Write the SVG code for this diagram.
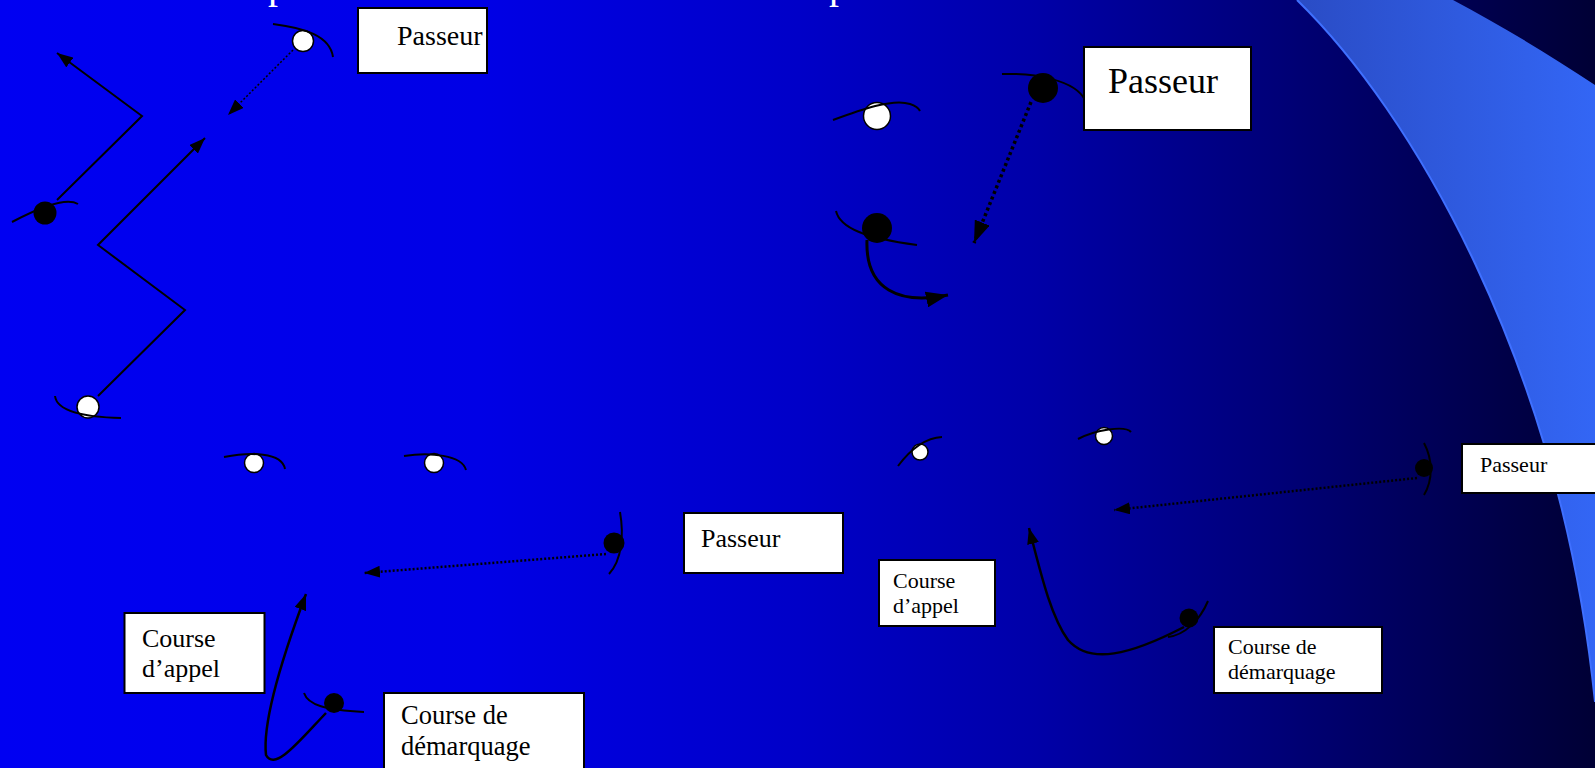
<svg xmlns="http://www.w3.org/2000/svg" width="1595" height="768" viewBox="0 0 1595 768">
<defs>
<linearGradient id="bg" x1="0" y1="0" x2="1595" y2="0" gradientUnits="userSpaceOnUse">
<stop offset="0" stop-color="#0000F2"/>
<stop offset="0.3" stop-color="#0000E6"/>
<stop offset="0.5" stop-color="#0000C8"/>
<stop offset="0.65" stop-color="#0000A8"/>
<stop offset="0.8" stop-color="#000078"/>
<stop offset="1" stop-color="#000035"/>
</linearGradient>
<linearGradient id="sw" x1="1297" y1="0" x2="1595" y2="0" gradientUnits="userSpaceOnUse">
<stop offset="0" stop-color="#2A4CC5"/>
<stop offset="1" stop-color="#3366F5"/>
</linearGradient>
<marker id="arr" viewBox="0 0 16 12" refX="16" refY="6" markerWidth="16" markerHeight="12" markerUnits="userSpaceOnUse" orient="auto">
<path d="M0,0 L16,6 L0,12 z" fill="#000"/>
</marker>
<marker id="arrBig" viewBox="0 0 22 16" refX="22" refY="8" markerWidth="22" markerHeight="16" markerUnits="userSpaceOnUse" orient="auto">
<path d="M0,0 L22,8 L0,16 z" fill="#000"/>
</marker>
</defs>
<style>
.box{fill:#fff;stroke:#000;stroke-width:2}
.lbl{font-family:"Liberation Serif","Times New Roman",serif;fill:#000}
.wp{fill:#fff;stroke:#000;stroke-width:1.5}
.bp{fill:#000}
.arc{fill:none;stroke:#000;stroke-width:2}
.ln{fill:none;stroke:#000;stroke-width:2;marker-end:url(#arr)}
.dot{fill:none;stroke:#000;stroke-width:2;stroke-dasharray:2 2;marker-end:url(#arr)}
.title{font-family:"Liberation Serif","Times New Roman",serif;fill:#fff;font-size:40px}
</style>
<rect x="0" y="0" width="1595" height="768" fill="url(#bg)"/>
<path d="M1297,0 C1410,110 1560,360 1595,702 L1595,85 C1550,55 1500,25 1453,0 Z" fill="url(#sw)"/>
<path d="M1297,0 C1410,110 1560,360 1595,702" fill="none" stroke="#3F70FF" stroke-width="2"/>
<text class="title" x="268" y="-2.5">p</text>
<text class="title" x="829" y="-2.5">p</text>

<g id="connectors">
<path class="dot" d="M293,50 L228,115" style="stroke-width:1.5"/>
<path class="ln" d="M57,200 L142,116 L57,53"/>
<path class="ln" d="M98,396 L185,310 L98,245 L205,138"/>
<path class="dot" d="M606,554 L364,573" style="stroke-width:2.5"/>
<path class="ln" d="M326,713 C300,740 275,772 266,755 C262,720 285,650 306,594" style="stroke-width:2.5"/>
<path d="M1031,102 L974,243" fill="none" stroke="#000" stroke-width="3.5" stroke-dasharray="3 3" marker-end="url(#arrBig)"/>
<path d="M867,240 C865,290 900,305 948,295" fill="none" stroke="#000" stroke-width="3" marker-end="url(#arrBig)"/>
<path class="dot" d="M1417,478 L1114,510" style="stroke-width:2.5"/>
<path class="ln" d="M1184,627 C1130,655 1090,665 1068,640 C1050,615 1040,570 1029,528" style="stroke-width:2.5"/>
</g>

<g id="p1"><circle class="wp" cx="303" cy="41" r="10.5"/><path class="arc" d="M273,24 C305,28 330,36 333,57"/></g>
<g id="p2"><circle class="bp" cx="45" cy="213" r="11.5"/><path class="arc" d="M12,222 C35,210 65,196 78,204"/></g>
<g id="p3"><circle class="wp" cx="88" cy="407" r="11"/><path class="arc" d="M55,396 C57,412 85,417 121,418"/></g>
<g id="p4"><circle class="wp" cx="254" cy="463" r="9.5"/><path class="arc" d="M224,457 C250,452 282,452 285,469"/></g>
<g id="p5"><circle class="wp" cx="434" cy="463" r="9.5"/><path class="arc" d="M404,456 C430,452 462,455 466,470"/></g>
<g id="p6"><circle class="bp" cx="614" cy="543" r="10.5"/><path class="arc" d="M620,512 C624,535 622,560 609,574"/></g>
<g id="p7"><circle class="bp" cx="334" cy="703" r="10"/><path class="arc" d="M304,693 C308,705 325,710 364,712"/></g>
<g id="p8"><circle class="wp" cx="877" cy="116" r="13.5"/><path class="arc" d="M833,120 C860,110 893,98 910,104 C916,106 919,109 920,111"/></g>
<g id="p9"><circle class="bp" cx="1043" cy="88" r="15"/><path class="arc" d="M1002,74 C1035,73 1075,80 1085,100"/></g>
<g id="p10"><circle class="bp" cx="877" cy="228" r="15"/><path class="arc" d="M836,211 C840,228 865,238 917,245"/></g>
<g id="p11"><circle class="wp" cx="920" cy="452" r="8"/><path class="arc" d="M898,466 C910,450 925,438 942,437"/></g>
<g id="p12"><circle class="wp" cx="1104" cy="436" r="8.5"/><path class="arc" d="M1078,439 C1095,430 1125,425 1131,432"/></g>
<g id="p13"><circle class="bp" cx="1424" cy="468" r="9"/><path class="arc" d="M1424,443 C1433,460 1433,480 1424,495"/></g>
<g id="p14"><circle class="bp" cx="1189" cy="618" r="9.5"/><path class="arc" d="M1208,601 C1200,620 1185,635 1168,637"/></g>

<g id="b1"><rect class="box" x="358" y="8" width="129" height="65"/><text class="lbl" x="397" y="45" font-size="28">Passeur</text></g>
<g id="b2"><rect class="box" x="1084" y="47" width="167" height="83"/><text class="lbl" x="1108" y="93" font-size="36">Passeur</text></g>
<g id="b3"><rect class="box" x="684" y="513" width="159" height="60"/><text class="lbl" x="701" y="547" font-size="26">Passeur</text></g>
<g id="b4"><rect class="box" x="124.5" y="613" width="140" height="80"/><text class="lbl" x="142" y="647" font-size="26">Course</text><text class="lbl" x="142" y="677" font-size="26">d’appel</text></g>
<g id="b5"><rect class="box" x="384" y="693" width="200" height="80"/><text class="lbl" x="401" y="724" font-size="26.5">Course de</text><text class="lbl" x="401" y="755" font-size="26.5">démarquage</text></g>
<g id="b6"><rect class="box" x="879" y="560" width="116" height="66"/><text class="lbl" x="893" y="588" font-size="22">Course</text><text class="lbl" x="893" y="613" font-size="22">d’appel</text></g>
<g id="b7"><rect class="box" x="1214" y="627" width="168" height="66"/><text class="lbl" x="1228" y="654" font-size="22">Course de</text><text class="lbl" x="1228" y="679" font-size="22">démarquage</text></g>
<g id="b8"><rect class="box" x="1462" y="444" width="140" height="49"/><text class="lbl" x="1480" y="472" font-size="22">Passeur</text></g>
</svg>
